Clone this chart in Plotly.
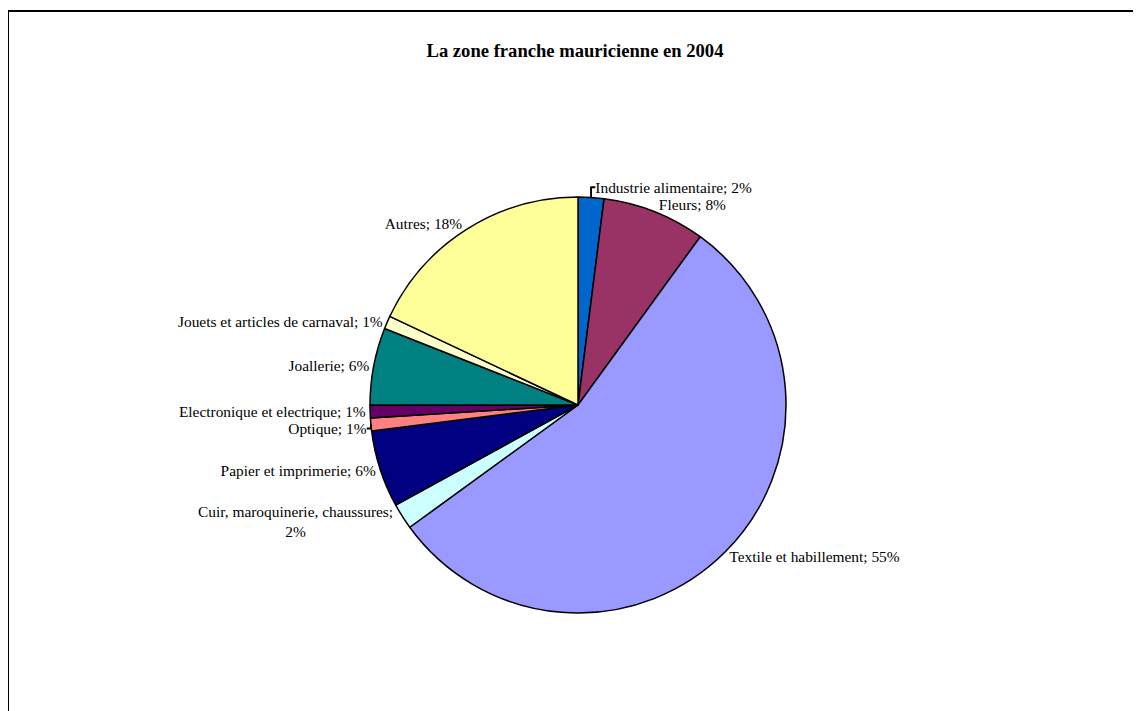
import plotly.graph_objects as go

categories = [
    "Industrie alimentaire",
    "Fleurs",
    "Textile et habillement",
    "Cuir, maroquinerie, chaussures",
    "Papier et imprimerie",
    "Optique",
    "Electronique et electrique",
    "Joallerie",
    "Jouets et articles de carnaval",
    "Autres",
]
values = [2, 8, 55, 2, 6, 1, 1, 6, 1, 18]
colors = ["#0066CC", "#993366", "#9999FF", "#CCFFFF", "#000080",
          "#FF8080", "#660066", "#008080", "#FFFFCC", "#FFFF99"]
separators = ["; ", "; ", "; ", ";<br>", "; ", "; ", "; ", "; ", "; ", "; "]
title = "La zone franche mauricienne en 2004"

total = sum(values)
texts = [f"{c}{s}{round(v / total * 100)}%" for c, s, v in zip(categories, separators, values)]

W, H = 1141, 711
cx, cy, r = 570, 397, 208

fig = go.Figure(go.Pie(
    labels=categories,
    values=values,
    text=texts,
    texttemplate="%{text}",
    textposition="outside",
    sort=False,
    direction="clockwise",
    rotation=0,
    marker=dict(colors=colors, line=dict(color="black", width=1.5)),
    outsidetextfont=dict(family="Liberation Serif", size=15.4, color="black"),
    showlegend=False,
    domain=dict(x=[(cx - r) / W, (cx + r) / W], y=[1 - (cy + r) / H, 1 - (cy - r) / H]),
))

fig.update_layout(
    width=W, height=H,
    margin=dict(l=0, r=0, t=0, b=0),
    paper_bgcolor="white",
    plot_bgcolor="white",
    title=dict(text="<b>" + title + "</b>", x=567 / W, xanchor="center",
               y=1 - 42 / H, yanchor="middle",
               font=dict(family="Liberation Serif", size=18.6, color="black")),
    shapes=[dict(type="rect", xref="paper", yref="paper",
                 x0=0, x1=1.01, y0=-0.01, y1=1 - 3 / H,
                 line=dict(color="black", width=2), fillcolor="rgba(0,0,0,0)")],
)

fig.write_html("out.html")
